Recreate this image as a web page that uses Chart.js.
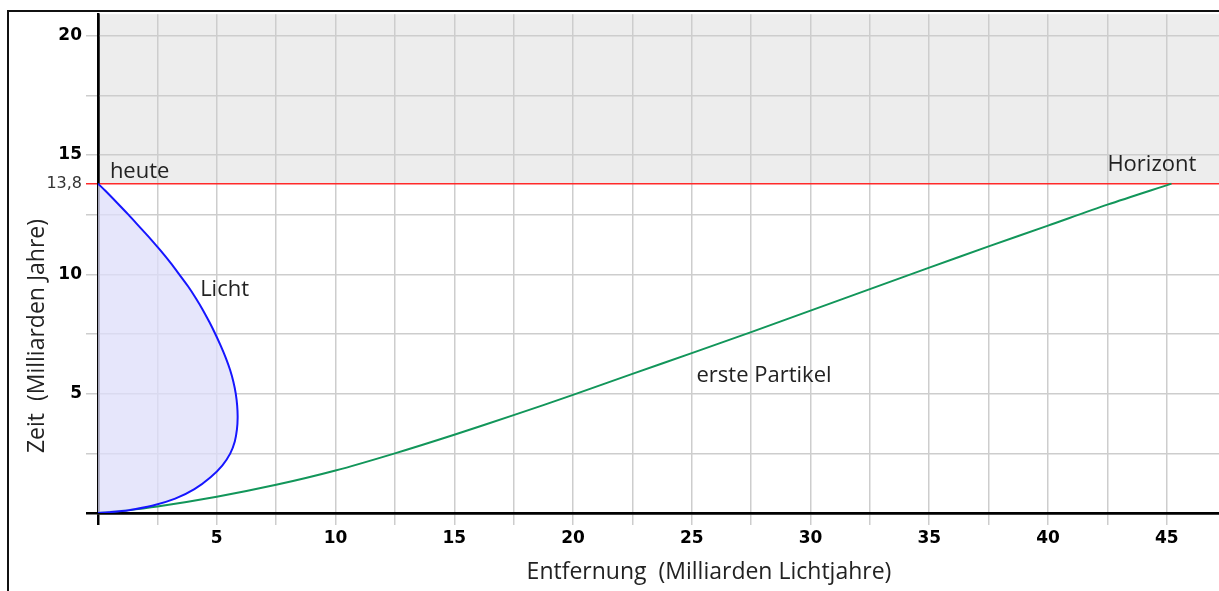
<!DOCTYPE html>
<html>
<head>
<meta charset="utf-8">
<script src="https://cdn.jsdelivr.net/npm/chart.js@4"></script>
<style>
    html, body { margin: 0; padding: 0; background: #fff; }
    #wrap { position: relative; width: 1219px; height: 591px; }
</style>
</head>
<body>
<div id="wrap"><canvas id="chart"></canvas></div>
<script>
// Entfernung in Milliarden Lichtjahren, Zeit in Milliarden Jahren
const lichtT = [13.8, 13.5, 13, 12.5, 12, 11.5, 11, 10.5, 10, 9.5, 9, 8.5, 8, 7.5, 7, 6.5, 6, 5.5, 5, 4.5, 4, 3.5, 3, 2.5, 2, 1.5, 1, 0.6, 0.3, 0.12, 0.03, 0];
const lichtX = [0, 0.31, 0.8, 1.28, 1.74, 2.2, 2.63, 3.04, 3.42, 3.79, 4.12, 4.42, 4.69, 4.94, 5.17, 5.38, 5.56, 5.7, 5.8, 5.86, 5.88, 5.85, 5.76, 5.57, 5.24, 4.74, 4.06, 3.25, 2.28, 1.3, 0.45, 0];

const partikelX = [0, 1, 2.5, 5, 7.5, 10, 12.5, 15, 17.5, 20, 22.5, 25, 27.5, 30, 32.5, 35, 37.5, 40, 42.5, 45.2];
const partikelT = [0, 0.09, 0.27, 0.68, 1.18, 1.78, 2.5, 3.28, 4.1, 4.95, 5.83, 6.7, 7.58, 8.48, 9.38, 10.28, 11.17, 12.04, 12.92, 13.8];

const heute = 13.8;
const xTicks = [0, 2.5, 5, 7.5, 10, 12.5, 15, 17.5, 20, 22.5, 25, 27.5, 30, 32.5, 35, 37.5, 40, 42.5, 45];
const yTicks = [0, 2.5, 5, 7.5, 10, 12.5, heute, 15, 17.5, 20];

const labelFont = '22px "Open Sans"';
const titleFont = '23px "Open Sans"';

const extras = {
    id: "extras",
    beforeDraw(chart) {
        const { ctx, chartArea: a, scales } = chart;
        ctx.save();
        ctx.fillStyle = "#fff";
        ctx.fillRect(0, 0, chart.width, chart.height);
        ctx.fillStyle = "#ededed";
        const yh = scales.y.getPixelForValue(heute);
        ctx.fillRect(a.left, a.top, a.right - a.left, yh - a.top);
        ctx.restore();
    },
    afterDraw(chart) {
        const { ctx, scales } = chart;
        const px = v => scales.x.getPixelForValue(v);
        const py = v => scales.y.getPixelForValue(v);
        ctx.save();
        ctx.fillStyle = "#222";
        ctx.font = labelFont;
        ctx.textBaseline = "middle";
        ctx.textAlign = "left";
        ctx.fillText("heute", px(0.5), py(14.3));
        ctx.fillText("Licht", px(4.3), py(9.37));
        ctx.fillText("erste Partikel", px(25.2), py(5.75));
        ctx.fillText("Horizont", px(42.5), py(14.6));

        // Achsentitel
        ctx.font = titleFont;
        ctx.textAlign = "center";
        ctx.fillText("Entfernung  (Milliarden Lichtjahre)", 709, 572);
        ctx.translate(37, 336);
        ctx.rotate(-Math.PI / 2);
        ctx.fillText("Zeit  (Milliarden Jahre)", 0, 0);
        ctx.restore();

        // Rahmen
        ctx.save();
        ctx.strokeStyle = "#111";
        ctx.lineWidth = 2;
        ctx.beginPath();
        ctx.moveTo(8, chart.height);
        ctx.lineTo(8, 11);
        ctx.lineTo(chart.width, 11);
        ctx.stroke();
        ctx.restore();
    }
};

const gridCol = "#cdcdcd";

new Chart(document.getElementById("chart"), {
    type: "scatter",
    data: {
        datasets: [
            {
                label: "Licht",
                data: lichtX.map((x, i) => ({ x: x, y: lichtT[i] })),
                showLine: true,
                borderColor: "#1616ff",
                borderWidth: 2,
                backgroundColor: "rgba(222, 222, 250, 0.75)",
                fill: "shape",
                tension: 0.3,
                pointRadius: 0
            },
            {
                label: "erste Partikel",
                data: partikelX.map((x, i) => ({ x: x, y: partikelT[i] })),
                showLine: true,
                borderColor: "#12965a",
                borderWidth: 2,
                fill: false,
                tension: 0.3,
                pointRadius: 0
            }
        ]
    },
    options: {
        responsive: true,
        maintainAspectRatio: false,
        animation: false,
        layout: { padding: { top: 12, right: 0, left: 0, bottom: 0 } },
        plugins: {
            legend: { display: false },
            tooltip: { enabled: false }
        },
        scales: {
            x: {
                type: "linear",
                min: 0,
                max: 47.2,
                afterBuildTicks: s => { s.ticks = xTicks.map(v => ({ value: v })); },
                afterFit: s => { s.height = 78; },
                border: { color: "#000", width: 2.5 },
                grid: {
                    color: c => (c.tick && c.tick.value === 0) ? "#000" : gridCol,
                    lineWidth: c => (c.tick && c.tick.value === 0) ? 2.5 : 1.5,
                    tickColor: c => (c.tick && c.tick.value === 0) ? "#000" : gridCol,
                    tickWidth: c => (c.tick && c.tick.value === 0) ? 2.5 : 1.5,
                    tickLength: 12
                },
                ticks: {
                    autoSkip: false,
                    maxRotation: 0,
                    padding: 3,
                    color: "#000",
                    font: { family: "DejaVu Sans", size: 17, weight: "bold" },
                    callback: v => (v !== 0 && v % 5 === 0) ? String(v) : ""
                }
            },
            y: {
                type: "linear",
                min: 0,
                max: 20.9,
                afterBuildTicks: s => { s.ticks = yTicks.map(v => ({ value: v })); },
                afterFit: s => { s.width = 98; },
                border: { color: "#000", width: 2.5 },
                grid: {
                    color: c => {
                        const v = c.tick && c.tick.value;
                        return v === heute ? "#ff2a2a" : v === 0 ? "#000" : gridCol;
                    },
                    lineWidth: c => (c.tick && c.tick.value === 0) ? 2.5 : 1.5,
                    tickColor: c => {
                        const v = c.tick && c.tick.value;
                        return v === heute ? "#ff2a2a" : v === 0 ? "#000" : gridCol;
                    },
                    tickWidth: c => (c.tick && c.tick.value === 0) ? 2.5 : 1.5,
                    tickLength: 12
                },
                ticks: {
                    autoSkip: false,
                    padding: 4,
                    color: c => (c.tick && c.tick.value === heute) ? "#333" : "#000",
                    font: c => (c.tick && c.tick.value === heute)
                        ? { family: "DejaVu Sans", size: 16, weight: "normal" }
                        : { family: "DejaVu Sans", size: 17, weight: "bold" },
                    callback: v => v === heute ? "13,8" : ((v !== 0 && v % 5 === 0) ? String(v) : "")
                }
            }
        }
    },
    plugins: [extras]
});
</script>
</body>
</html>
